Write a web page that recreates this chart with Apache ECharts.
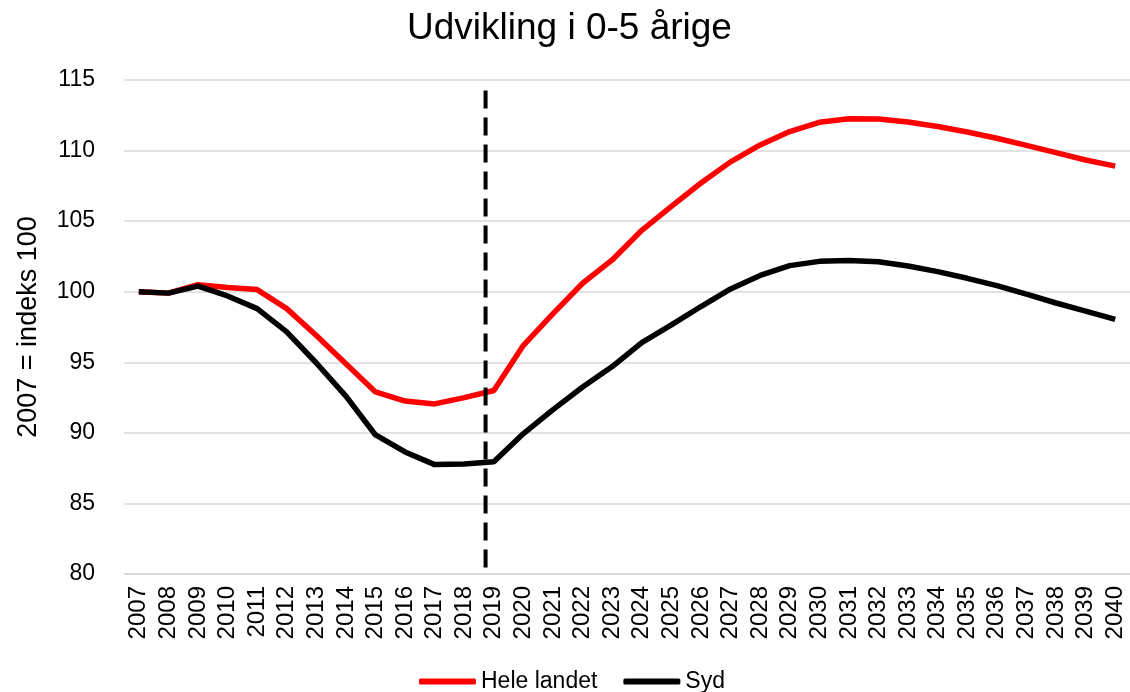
<!DOCTYPE html>
<html>
<head>
<meta charset="utf-8">
<script src="https://cdn.jsdelivr.net/npm/echarts@6/dist/echarts.min.js"></script>
<style>
  html, body { margin: 0; padding: 0; background: #fff; }
  #chart { width: 1130px; height: 692px; }
</style>
</head>
<body>
<div id="chart"></div>
<script>
var years = ['2007','2008','2009','2010','2011','2012','2013','2014','2015','2016','2017','2018','2019','2020','2021','2022','2023','2024','2025','2026','2027','2028','2029','2030','2031','2032','2033','2034','2035','2036','2037','2038','2039','2040'];
var heleLandet = [100, 99.9, 100.5, 100.3, 100.15, 98.8, 96.9, 94.9, 92.9, 92.25, 92.05, 92.5, 93.0, 96.2, 98.45, 100.6, 102.25, 104.35, 106.05, 107.7, 109.2, 110.4, 111.35, 112.0, 112.25, 112.24, 112.03, 111.7, 111.32, 110.87, 110.37, 109.85, 109.33, 108.9];
var syd = [100, 99.9, 100.4, 99.7, 98.8, 97.15, 94.95, 92.6, 89.85, 88.65, 87.75, 87.8, 87.95, 89.95, 91.65, 93.25, 94.7, 96.4, 97.65, 98.95, 100.2, 101.15, 101.85, 102.15, 102.22, 102.12, 101.82, 101.42, 100.95, 100.43, 99.83, 99.2, 98.63, 98.04];
var yTicks = { min: 80, max: 115, interval: 5 };
// dashed divider between historic and forecast years (drawn top -> bottom)
var dividerX = 2018.72;
var dividerY = [114.25, 80];

var font = 'Liberation Sans, Arial, sans-serif';
var chart = echarts.init(document.getElementById('chart'));
chart.setOption({
  animation: false,
  title: {
    text: 'Udvikling i 0-5 årige',
    left: 402, top: 5,
    textStyle: { fontFamily: font, fontSize: 37, fontWeight: 'normal', color: '#000' }
  },
  legend: {
    data: ['Hele landet', 'Syd'],
    top: 665, left: 414,
    icon: 'roundRect',
    itemWidth: 57, itemHeight: 6, itemGap: 26,
    textStyle: { fontFamily: font, fontSize: 23, color: '#000' }
  },
  grid: { left: 124, width: 1010, top: 80, bottom: 118 },
  xAxis: [{
    type: 'category',
    data: years,
    boundaryGap: true,
    axisLine: { lineStyle: { color: '#d9d9d9', width: 1.5 } },
    axisTick: { show: false },
    axisLabel: { rotate: 90, interval: 0, margin: 12, fontFamily: font, fontSize: 24, color: '#000' }
  }, {
    type: 'value',
    min: 2006.5, max: 2040.5,
    show: false
  }],
  yAxis: {
    type: 'value',
    min: yTicks.min, max: yTicks.max, interval: yTicks.interval,
    name: '2007 = indeks 100',
    nameLocation: 'middle', nameGap: 82,
    nameTextStyle: { fontFamily: font, fontSize: 27, color: '#000' },
    axisLine: { show: false },
    axisTick: { show: false },
    axisLabel: { margin: 29, fontFamily: font, fontSize: 23, color: '#000' },
    splitLine: { lineStyle: { color: '#d9d9d9', width: 1.5 } }
  },
  series: [{
    name: 'Hele landet', type: 'line', data: heleLandet,
    showSymbol: false, symbol: 'none',
    lineStyle: { color: '#ff0000', width: 5.5 }, itemStyle: { color: '#ff0000' }
  }, {
    name: 'Syd', type: 'line', data: syd,
    showSymbol: false, symbol: 'none',
    lineStyle: { color: '#000000', width: 5.5 }, itemStyle: { color: '#000000' }
  }, {
    name: 'divider', type: 'line', xAxisIndex: 1,
    data: [[dividerX, dividerY[0]], [dividerX, dividerY[1]]],
    showSymbol: false, symbol: 'none', silent: true,
    lineStyle: { color: '#000', width: 4, type: [18, 9] }
  }]
});
</script>
</body>
</html>
